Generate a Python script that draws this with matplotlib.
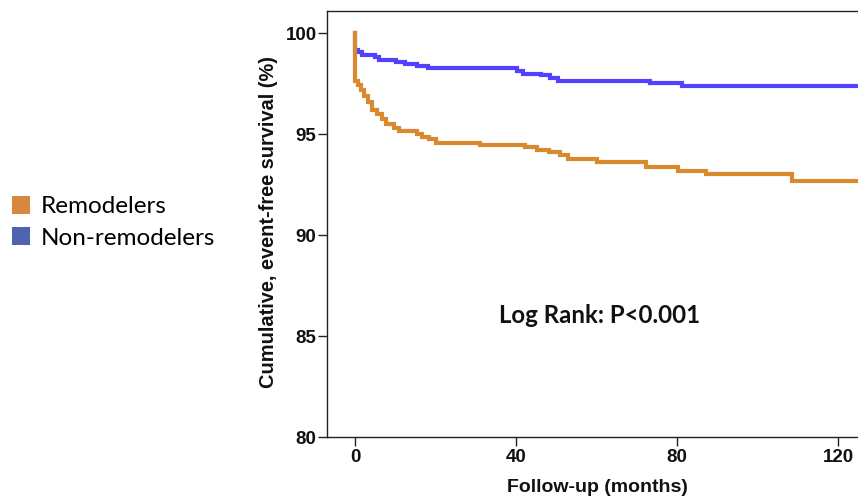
import matplotlib
matplotlib.use("Agg")
import matplotlib.pyplot as plt
from matplotlib.patches import Patch

# ---- data ----
followup_end = 126.0

nonrem_t = [0, 0, 0.7, 1.7, 5.0, 6.0, 10.1, 12.3, 15.3, 18.0, 40.1, 41.8, 46.1, 48.5, 50.3, 73.3, 81.3]
nonrem_s = [100, 99.19, 99.07, 98.94, 98.82, 98.70, 98.60, 98.50, 98.40, 98.27, 98.14, 98.01, 97.92,
            97.80, 97.66, 97.52, 97.37]

rem_t = [0, 0, 0.7, 1.4, 2.3, 3.3, 4.3, 5.4, 6.7, 7.6, 9.7, 11.0, 15.3, 16.5, 18.3, 20.0, 31.1,
         42.2, 45.2, 48.2, 50.8, 52.9, 60.2, 72.2, 80.3, 87.1, 108.5]
rem_s = [100, 97.66, 97.45, 97.20, 96.90, 96.60, 96.20, 96.00, 95.75, 95.50, 95.32, 95.15, 95.01,
         94.89, 94.75, 94.58, 94.47, 94.35, 94.21, 94.11, 93.99, 93.76, 93.63, 93.36, 93.20, 93.01, 92.71]

x_ticks = [0, 40, 80, 120]
y_ticks = [80, 85, 90, 95, 100]
series_names = ["Remodelers", "Non-remodelers"]
annotation = "Log Rank: P<0.001"

# ---- styling ----
line_orange = "#D98A2E"
line_blue = "#5242FF"
leg_orange = "#D9873E"
leg_blue = "#4F63AF"

W, H = 858, 501
fig = plt.figure(figsize=(W / 100, H / 100), dpi=100)
ax = fig.add_axes([327 / W, (H - 437) / H, 536 / W, 426 / H])

ax.step(nonrem_t + [followup_end], nonrem_s + [nonrem_s[-1]], where="post",
        color=line_blue, lw=3.0, solid_joinstyle="miter", zorder=2)
ax.step(rem_t + [followup_end], rem_s + [rem_s[-1]], where="post",
        color=line_orange, lw=3.0, solid_joinstyle="miter", zorder=3)

ax.set_xlim(-7, 126.2)
ax.set_ylim(80, 101.11)
ax.set_xticks(x_ticks)
ax.set_yticks(y_ticks)
for sp in ax.spines.values():
    sp.set_linewidth(1.0)
    sp.set_color("#222222")
ax.tick_params(axis="both", direction="out", length=6.5, width=1.0, color="#222222")
ax.tick_params(axis="y", pad=1)
ax.tick_params(axis="x", pad=2.5)
for lab in ax.get_xticklabels() + ax.get_yticklabels():
    lab.set_fontfamily("Liberation Sans")
    lab.set_fontweight("bold")
    lab.set_fontsize(13.5)
    lab.set_color("#111111")

fig.text(268 / W, 1 - 222 / H, "Cumulative, event-free survival (%)", rotation=90,
         ha="center", va="center", fontfamily="Liberation Sans", fontweight="bold",
         fontsize=14.4, color="#111111")
fig.text(597 / W, 1 - 488 / H, "Follow-up (months)", ha="center", va="center",
         fontfamily="Liberation Sans", fontweight="bold", fontsize=14, color="#111111")

ax.text(60.8, 86.0, annotation, ha="center", va="center", fontfamily="Lato",
        fontweight="bold", fontsize=17.3, color="#111111")

handles = [Patch(facecolor=leg_orange, edgecolor="none"),
           Patch(facecolor=leg_blue, edgecolor="none")]
fig.legend(handles, series_names, loc="upper left", bbox_to_anchor=(2 / W, 1 - 186 / H),
           frameon=False, prop={"family": "Lato", "size": 17.5},
           handlelength=0.75, handleheight=0.75, handletextpad=0.45, labelspacing=0.42,
           borderaxespad=0)

fig.savefig("out.png", dpi=100)
